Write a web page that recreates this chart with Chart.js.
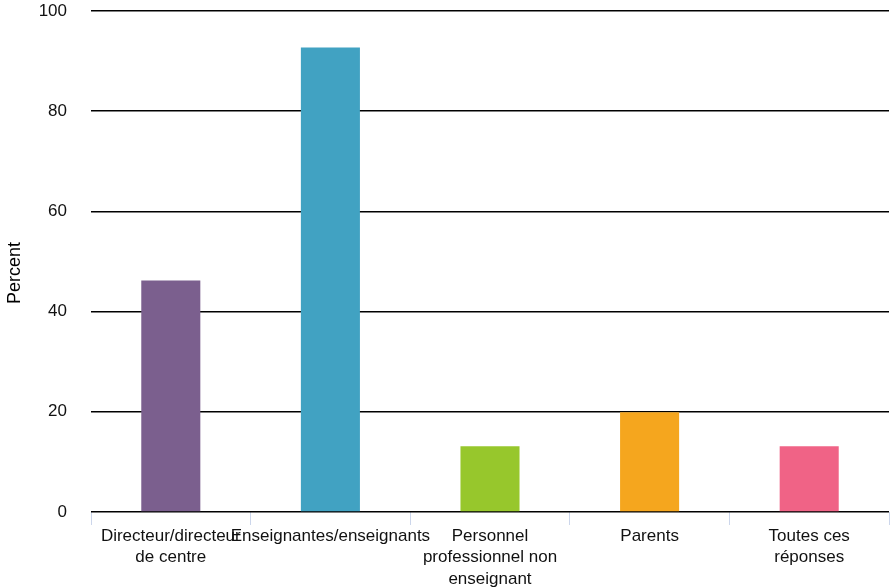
<!DOCTYPE html>
<html>
<head>
<meta charset="utf-8">
<script src="https://cdn.jsdelivr.net/npm/chart.js@4/dist/chart.umd.min.js"></script>
<style>
  html, body { margin: 0; padding: 0; background: #fff; }
  #c { display: block; }
</style>
</head>
<body>
<canvas id="c" width="891" height="588"></canvas>
<script>
const categories = [
  ["Directeur/directeur", "de centre"],
  ["Enseignantes/enseignants"],
  ["Personnel", "professionnel non", "enseignant"],
  ["Parents"],
  ["Toutes ces", "réponses"]
];
const percentValues = [46.2, 92.7, 13.1, 19.9, 13.1];
const barColors = ["#7B5F8E", "#41A2C2", "#97C72C", "#F5A61E", "#F06386"];
const yTicks = [0, 20, 40, 60, 80, 100];
const yTitle = "Percent";

const FONT = "'Liberation Sans', Arial, Helvetica, sans-serif";

const yTitlePlugin = {
  id: 'yTitle',
  afterDraw(chart) {
    const ctx = chart.ctx;
    ctx.save();
    ctx.translate(15, 273);
    ctx.rotate(-Math.PI / 2);
    ctx.font = "18px " + FONT;
    ctx.fillStyle = '#000';
    ctx.textAlign = 'center';
    ctx.textBaseline = 'middle';
    ctx.fillText(yTitle, 0, 0);
    ctx.restore();
  }
};

new Chart(document.getElementById('c'), {
  type: 'bar',
  data: {
    labels: categories,
    datasets: [{
      data: percentValues,
      backgroundColor: barColors,
      borderWidth: 0,
      barPercentage: 0.37,
      categoryPercentage: 1.0
    }]
  },
  plugins: [yTitlePlugin],
  options: {
    responsive: false,
    animation: false,
    devicePixelRatio: 1,
    layout: { padding: { top: 11, right: 2, left: 0, bottom: 0 } },
    plugins: { legend: { display: false }, tooltip: { enabled: false } },
    scales: {
      x: {
        grid: {
          drawOnChartArea: false,
          drawTicks: true,
          tickLength: 13,
          tickColor: '#ccd6eb',
          lineWidth: 1,
          offset: true
        },
        border: { display: false },
        ticks: {
          autoSkip: false,
          maxRotation: 0,
          minRotation: 0,
          padding: 0,
          color: '#111',
          font: { family: FONT, size: 17, lineHeight: 1.28 }
        },
        afterFit: (s) => { s.height = 76; s.paddingLeft = 0; s.paddingRight = 0; }
      },
      y: {
        min: 0,
        max: 100,
        afterBuildTicks: (s) => { s.ticks = yTicks.map(v => ({ value: v })); },
        grid: { color: '#000', lineWidth: 1.6, drawTicks: false },
        border: { display: false },
        ticks: {
          padding: 24,
          color: '#111',
          font: { family: FONT, size: 17 }
        },
        afterFit: (s) => { s.width = 91; s.paddingTop = 0; s.paddingBottom = 0; }
      }
    }
  }
});
</script>
</body>
</html>
